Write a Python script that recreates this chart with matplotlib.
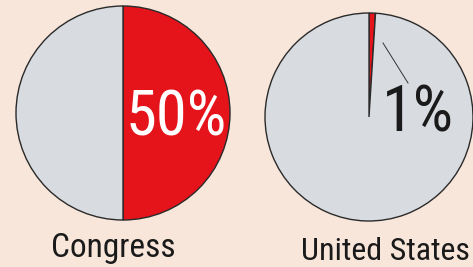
import matplotlib.pyplot as plt

labels = ["Congress", "United States"]
shares = [50, 1]
pct_labels = ["50%", "1%"]

bg = "#f8e6da"
red = "#e5141b"
grey = "#d8dce0"
cond = ["Roboto Condensed", "Archivo Narrow", "DejaVu Sans"]

fig = plt.figure(figsize=(4.73, 2.67), dpi=100)
fig.patch.set_facecolor(bg)
ax = fig.add_axes([0, 0, 1, 1])
ax.set_facecolor(bg)

centers = [(123, 154), (369, 150)]
radii = [107, 104]

for (cx, cy), r, s in zip(centers, radii, shares):
    ax.pie([s, 100 - s], colors=[red, grey], startangle=90, counterclock=False,
           center=(cx, cy), radius=r, frame=True,
           wedgeprops=dict(edgecolor="#2a2a2a", linewidth=1.0))

ax.set_xlim(0, 473)
ax.set_ylim(0, 267)
ax.set_aspect("equal")
ax.axis("off")

# percent labels
ax.text(176, 149, pct_labels[0], color="white", fontsize=45, family=cond,
        ha="center", va="center")
ax.text(418, 153, pct_labels[1], color="#1a1a1a", fontsize=46, family=cond,
        ha="center", va="center")
ax.plot([383, 408], [224, 184], color="#333333", linewidth=0.7)

# names
ax.text(113, 10, labels[0], color="#1a1a1a", fontsize=24, family=cond,
        ha="center", va="baseline")
ax.text(470, 7, labels[1], color="#1a1a1a", fontsize=23, family=cond,
        ha="right", va="baseline")

fig.savefig("out.png", dpi=100, facecolor=bg)
